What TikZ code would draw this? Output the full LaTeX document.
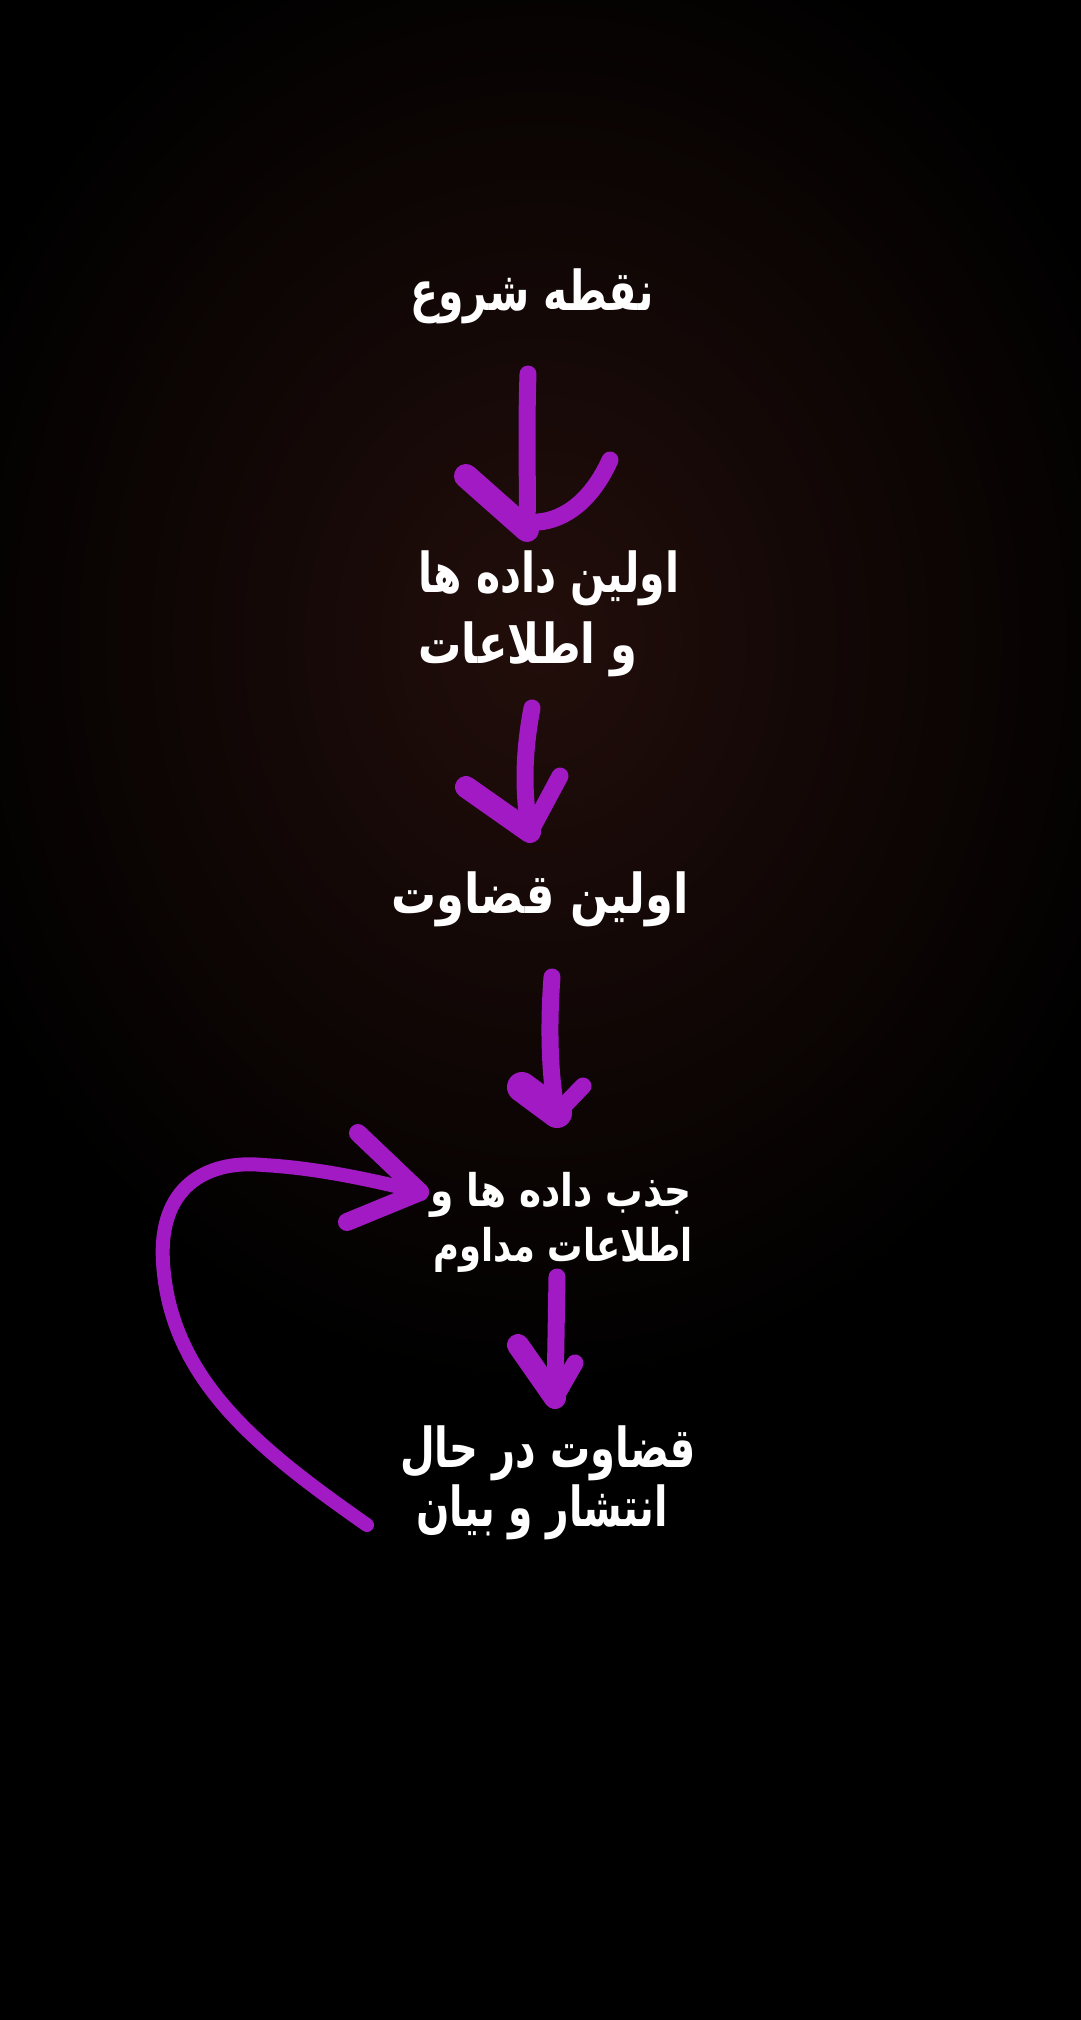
\documentclass[tikz,border=0pt]{standalone}
\usepackage{fontspec}
\TeXXeTstate=1
\newfontfamily\arabicfont[Script=Arabic]{DejaVu Sans}
\definecolor{arrowpurple}{RGB}{162,26,196}
\definecolor{glow}{RGB}{34,14,11}
\begin{document}
\begin{tikzpicture}[x=1pt,y=-1pt,
  lbl/.style={text=white,inner sep=0pt,font=\arabicfont\bfseries\fontsize{44}{50}\selectfont},
  lblsmall/.style={lbl,font=\arabicfont\bfseries\fontsize{36}{42}\selectfont},
  stroke/.style={draw=arrowpurple,line width=17pt,line cap=round,line join=round},
  barb/.style={stroke,line width=22pt},
  thinstroke/.style={stroke,line width=14pt}]
\useasboundingbox (0,0) rectangle (1080,2020);
\fill[black] (-10,-10) rectangle (1090,2030);
\shade[inner color=glow,outer color=black] (540,640) ellipse (640 and 760);
% texts
\node[lbl] (t1) at (532,296) {\scalebox{0.93}[1.25]{\beginR نقطه شروع\endR}};
\node[lbl] (t2a) at (549,578) {\scalebox{0.93}[1.25]{\beginR اولین داده ها\endR}};
\node[lbl] (t2b) at (528,649) {\scalebox{0.98}[1.25]{\beginR و اطلاعات\endR}};
\node[lbl] (t3) at (540,899) {\scalebox{1.02}[1.25]{\beginR اولین قضاوت\endR}};
\node[lblsmall] (t4a) at (561,1195) {\scalebox{1.04}[1.25]{\beginR جذب داده ها و\endR}};
\node[lblsmall] (t4b) at (563,1250) {\scalebox{0.98}[1.25]{\beginR اطلاعات مداوم\endR}};
\node[lbl] (t5a) at (548,1453) {\scalebox{0.91}[1.25]{\beginR قضاوت در حال\endR}};
\node[lbl] (t5b) at (542,1512) {\scalebox{0.89}[1.25]{\beginR انتشار و بیان\endR}};
% arrow 1
\coordinate (a1s) at (528,374);
\coordinate (a1t) at (527,530);
\coordinate (a1l) at (466,476);
\coordinate (a1r) at (610,460);
\draw[stroke] (a1s) .. controls (526,430) and (528,480) .. (a1t);
\draw[barb,line width=24pt] (a1l) -- (a1t);
\draw[stroke] (a1r) .. controls (592,500) and (565,520) .. (538,522);
% arrow 2
\coordinate (a2s) at (532,708);
\coordinate (a2t) at (530,832);
\coordinate (a2l) at (466,787);
\coordinate (a2r) at (560,776);
\draw[stroke] (a2s) .. controls (522,760) and (524,800) .. (a2t);
\draw[barb] (a2l) -- (a2t);
\draw[stroke] (a2r) -- (a2t);
% arrow 3
\coordinate (a3s) at (552,977);
\coordinate (a3t) at (557,1113);
\coordinate (a3l) at (522,1087);
\coordinate (a3r) at (583,1086);
\draw[stroke] (a3s) .. controls (548,1030) and (550,1080) .. (a3t);
\draw[barb,line width=30pt] (a3l) -- (a3t);
\draw[stroke] (a3r) -- (a3t);
% arrow 4
\coordinate (a4s) at (557,1277);
\coordinate (a4t) at (555,1398);
\coordinate (a4l) at (518,1345);
\coordinate (a4r) at (575,1363);
\draw[stroke] (a4s) -- (a4t);
\draw[barb] (a4l) -- (a4t);
\draw[stroke] (a4r) -- (a4t);
% feedback arrow
\coordinate (fbs) at (367,1525);
\coordinate (fbm) at (163,1262);
\coordinate (fbc) at (263,1165);
\coordinate (fbt) at (420,1192);
\coordinate (fbu) at (358,1133);
\coordinate (fbl) at (347,1222);
\draw[thinstroke] (fbs) .. controls (260,1450) and (170,1380) .. (fbm)
  .. controls (158,1180) and (215,1160) .. (fbc)
  .. controls (320,1168) and (380,1182) .. (fbt);
\draw[stroke,line width=18pt] (fbu) -- (fbt);
\draw[stroke,line width=18pt] (fbl) -- (fbt);
\end{tikzpicture}
\end{document}
